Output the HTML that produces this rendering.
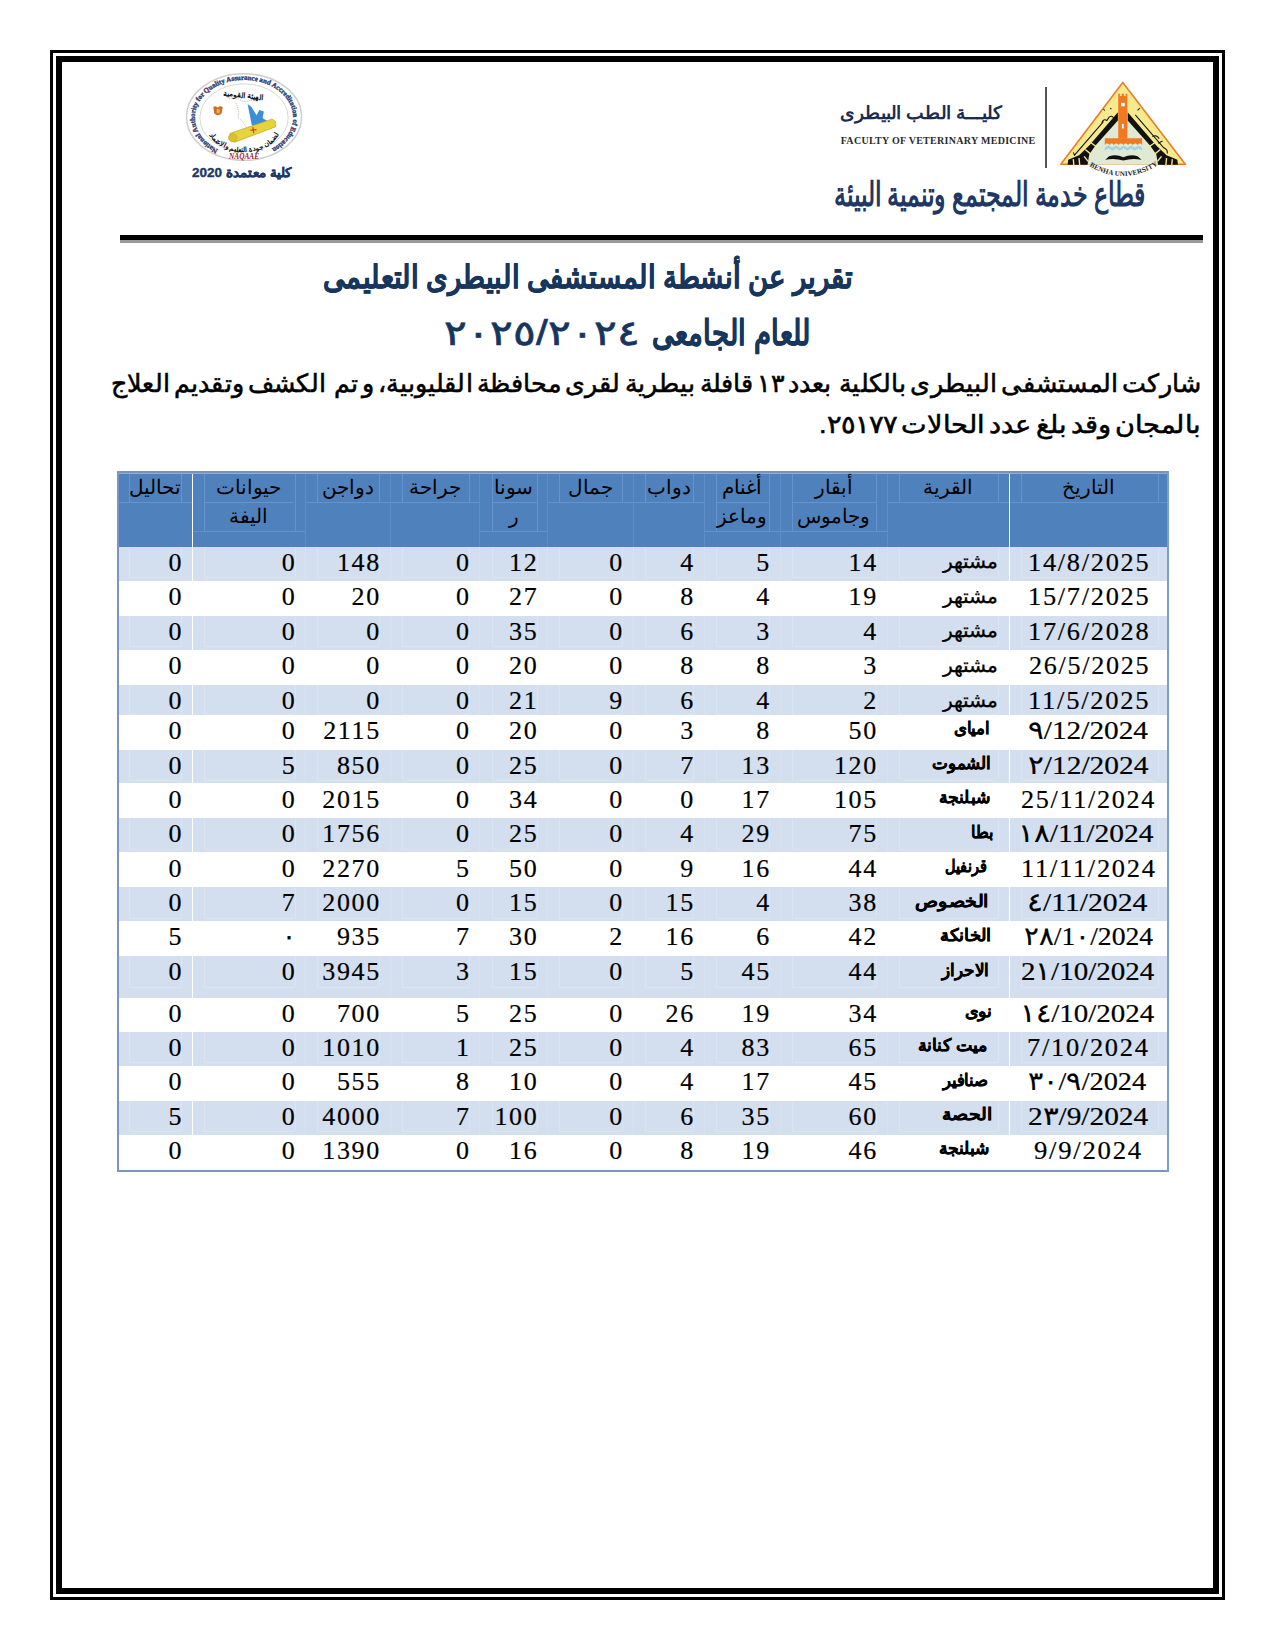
<!DOCTYPE html>
<html><head><meta charset="utf-8"><title>report</title>
<style>
html,body{margin:0;padding:0;background:#fff;}
body{width:1275px;height:1650px;position:relative;overflow:hidden;font-family:"Liberation Sans",sans-serif;}
.a{position:absolute;}
.t{position:absolute;white-space:nowrap;line-height:1;}
.num{font-family:"Liberation Serif",serif;font-size:26px;letter-spacing:1.7px;color:#000;-webkit-text-stroke:0.2px #000;}
.vil{font-family:"Liberation Sans",sans-serif;font-size:20px;color:#000;direction:rtl;transform-origin:0 0;-webkit-text-stroke:0.3px #000;}
.vb{font-weight:bold;font-size:17px;}
.dt{direction:ltr;unicode-bidi:isolate;transform-origin:0 0;}
.hd{font-family:"Liberation Sans",sans-serif;font-size:20px;color:#000;}
</style></head><body>

<div class="a" style="left:50px;top:50px;width:1175px;height:1550px;box-sizing:border-box;border:3px solid #000;"></div>
<div class="a" style="left:56px;top:56px;width:1163px;height:1538px;box-sizing:border-box;border:6px solid #000;"></div>
<div class="a" style="left:120px;top:235px;width:1083px;height:4.5px;background:#000;"></div>
<div class="a" style="left:120px;top:239.5px;width:1083px;height:3px;background:#9a9a9a;"></div>
<svg class="a" style="left:1050px;top:75px;" width="145" height="105" viewBox="0 0 1275 923">
<defs><path id="bu" d="M 345 800 Q 640 980 945 795"/></defs>
<path d="M640 65 L1190 785 L95 785 Z" fill="#f7ea8e" stroke="#ea7d2c" stroke-width="14" stroke-linejoin="round"/>
<path d="M597 400 L400 620 L345 700 L330 790 L950 790 L935 700 L880 620 L683 400 Z" fill="#dfe9d3"/>
<path d="M597 328 L345 620 L255 705 L160 745 L155 790 L330 790 L345 700 L400 620 L597 400 Z" fill="#111"/>
<path d="M683 328 L935 620 L1025 705 L1120 745 L1125 790 L950 790 L935 700 L880 620 L683 400 Z" fill="#111"/>
<g stroke="#f7ea8e" stroke-width="12">
<line x1="360" y1="595" x2="420" y2="640"/><line x1="310" y1="655" x2="365" y2="700"/><line x1="300" y1="715" x2="335" y2="760"/><line x1="255" y1="730" x2="262" y2="800"/><line x1="205" y1="740" x2="210" y2="800"/>
<line x1="920" y1="595" x2="860" y2="640"/><line x1="970" y1="655" x2="915" y2="700"/><line x1="980" y1="715" x2="945" y2="760"/><line x1="1025" y1="730" x2="1018" y2="800"/><line x1="1075" y1="740" x2="1070" y2="800"/>
</g>
<path d="M600 165 L615 165 L615 185 L630 185 L630 165 L650 165 L650 185 L665 185 L665 165 L680 165 L680 560 L600 560 Z" fill="#f07a24"/>
<rect x="625" y="245" width="32" height="30" fill="#fff"/>
<rect x="632" y="430" width="16" height="40" fill="#fff"/>
<path d="M482 555 L810 555 L810 615 Q 790 590 770 615 Q 750 590 728 615 Q 708 590 686 615 Q 666 590 645 615 Q 624 590 603 615 Q 582 590 562 615 Q 542 590 522 615 Q 502 590 482 615 Z" fill="#f07a24"/>
<path d="M482 640 L515 620 L548 640 L581 620 L614 640 L647 620 L680 640 L713 620 L746 640 L779 620 L810 640 L810 665 L779 645 L746 665 L713 645 L680 665 L647 645 L614 665 L581 645 L548 665 L515 645 L482 665 Z" fill="#9fd4e6"/>
<path d="M485 745 L520 715 Q 580 695 645 722 Q 710 695 770 715 L805 745 Q 720 728 645 752 Q 570 728 485 745 Z" fill="#111"/>
<text font-family="Liberation Serif,serif" font-weight="bold" font-size="62" fill="#222"><textPath href="#bu" textLength="640" lengthAdjust="spacing">BENHA UNIVERSITY</textPath></text>
<path d="M205 680 L215 705 L470 410" fill="none" stroke="#111" stroke-width="9"/>
<path d="M455 420 Q 470 380 500 400 L 520 370 Q 545 350 560 380 M470 300 L482 312 M530 290 L540 300" fill="none" stroke="#111" stroke-width="9"/>
<path d="M750 350 L1000 640 Q 1040 660 1030 690" fill="none" stroke="#111" stroke-width="9"/>
<path d="M900 540 Q 940 520 960 560 M950 600 L990 580 M770 310 L790 290" fill="none" stroke="#111" stroke-width="9"/>
</svg>
<svg class="a" style="left:170px;top:70px;" width="160" height="120" viewBox="0 0 1275 956">
<defs>
<path id="na" d="M 383 633 A 392 300 0 1 1 797 633"/>
<path id="ar2" d="M 285 420 A 305 235 0 0 0 895 420"/>
</defs>
<ellipse cx="590" cy="375" rx="458" ry="345" fill="#fff" stroke="#cfcfcf" stroke-width="12"/>
<ellipse cx="590" cy="380" rx="352" ry="270" fill="none" stroke="#c9c9c9" stroke-width="6"/>
<text font-family="Liberation Serif,serif" font-weight="bold" font-size="56" fill="#2b3f7a" stroke="#2b3f7a" stroke-width="3"><textPath href="#na" textLength="1740" lengthAdjust="spacingAndGlyphs"><tspan fill="#b22030">N</tspan>ational <tspan fill="#b22030">A</tspan>uthority for <tspan fill="#b22030">Q</tspan>uality <tspan fill="#b22030">A</tspan>ssurance and <tspan fill="#b22030">A</tspan>ccreditation of <tspan fill="#b22030">E</tspan>ducation</textPath></text>
<text x="590" y="708" font-family="Liberation Serif,serif" font-weight="bold" font-style="italic" font-size="58" fill="#9c1e2c" text-anchor="middle">NAQAAE</text>
<text x="585" y="222" font-family="Liberation Sans,sans-serif" font-weight="bold" font-size="60" fill="#111" text-anchor="middle" direction="rtl" transform="rotate(6 585 200)">الهيئة القومية</text>
<text font-family="Liberation Sans,sans-serif" font-weight="bold" font-size="56" fill="#111" direction="rtl"><textPath href="#ar2" startOffset="50%" text-anchor="middle">لضمان جودة التعليم والاعتماد</textPath></text>
<path d="M470 230 Q 520 210 560 240 Q 600 260 640 240 L 700 250 M 520 260 Q 560 320 540 380 Q 600 420 610 470" fill="none" stroke="#9a9a9a" stroke-width="5" stroke-dasharray="10 8"/>
<path d="M618 270 L648 292 L690 360 L712 318 L748 330 L738 382 L780 410 L795 445 L700 455 L652 440 Z" fill="#3b8fd4"/>
<path d="M478 505 L812 392 Q 850 400 842 452 L515 575 Q 470 570 478 505 Z" fill="#e7d43a" stroke="#bfa82a" stroke-width="6"/>
<ellipse cx="500" cy="540" rx="34" ry="32" fill="#d9c22e" stroke="#bfa82a" stroke-width="5"/>
<path d="M660 455 L668 505 M640 480 L690 475" stroke="#d23a2a" stroke-width="9"/>
<path d="M345 295 Q 360 280 380 300 Q 400 280 420 295 L 412 345 Q 382 375 352 345 Z" fill="#c8702c"/>
<path d="M370 312 L398 312 L394 345 L374 345 Z" fill="#e9b44c"/>
</svg>
<div class="a" style="left:1045px;top:87px;width:1.5px;height:81px;background:#555;"></div>
<div class="t" style="left:323.3px;top:261.7px;font-size:31.5px;font-family:'Liberation Sans',sans-serif;color:#17365d;font-weight:bold;transform:scaleX(0.8620);transform-origin:0 0;direction:rtl;-webkit-text-stroke:0.5px #17365d;">تقرير عن أنشطة المستشفى البيطرى التعليمى</div>
<div class="t" style="left:652.4px;top:314.6px;font-size:35px;font-family:'Liberation Sans',sans-serif;color:#17365d;font-weight:bold;transform:scaleX(0.7840);transform-origin:0 0;direction:rtl;-webkit-text-stroke:0.5px #17365d;">للعام الجامعى</div>
<div class="t" style="left:443.8px;top:314.9px;font-size:35px;font-family:'Liberation Sans',sans-serif;color:#17365d;transform:scaleX(1.2120);transform-origin:0 0;direction:ltr;-webkit-text-stroke:0.7px #17365d;">٢٠٢٥/٢٠٢٤</div>
<div class="t" style="left:110.5px;top:370.7px;font-size:25px;font-family:'Liberation Sans',sans-serif;color:#000;transform:scaleX(1.0140);transform-origin:0 0;direction:rtl;white-space:pre;word-spacing:-3px;-webkit-text-stroke:0.55px #000;">شاركت المستشفى البيطرى بالكلية  بعدد ١٣ قافلة بيطرية لقرى محافظة القليوبية، و تم  الكشف وتقديم العلاج</div>
<div class="t" style="left:819.1px;top:411.9px;font-size:25px;font-family:'Liberation Sans',sans-serif;color:#000;transform:scaleX(1.0860);transform-origin:0 0;direction:rtl;word-spacing:-3px;-webkit-text-stroke:0.55px #000;">بالمجان وقد بلغ عدد الحالات ٢٥١٧٧.</div>
<div class="t" style="left:834.3px;top:177.2px;font-size:34px;font-family:'Liberation Sans',sans-serif;color:#1f3864;font-weight:bold;transform:scaleX(0.6990);transform-origin:0 0;direction:rtl;">قطاع خدمة المجتمع وتنمية البيئة</div>
<div class="t" style="left:840.2px;top:104.5px;font-size:17.5px;font-family:'Liberation Sans',sans-serif;color:#1c2b52;font-weight:bold;transform:scaleX(1.0390);transform-origin:0 0;direction:rtl;">كليـــة الطب البيطرى</div>
<div class="t" style="left:840.7px;top:136.3px;font-size:10px;font-family:'Liberation Serif',serif;color:#2a2a2a;font-weight:bold;transform:scaleX(1.0000);transform-origin:0 0;letter-spacing:0.3px;">FACULTY OF VETERINARY MEDICINE</div>
<div class="t" style="left:192.0px;top:165.8px;font-size:13px;font-family:'Liberation Sans',sans-serif;color:#1f3864;font-weight:bold;transform:scaleX(1.0350);transform-origin:0 0;direction:rtl;-webkit-text-stroke:0.4px #1f3864;">كلية معتمدة 2020</div>
<div class="a" style="left:117px;top:471px;width:1051.5px;height:75.5px;background:#4f81bd;"></div>
<div class="a" style="left:117px;top:546.5px;width:1051.5px;height:34.5px;background:#d3dfee;"></div>
<div class="a" style="left:117px;top:615.5px;width:1051.5px;height:34.2px;background:#d3dfee;"></div>
<div class="a" style="left:117px;top:684.8px;width:1051.5px;height:29.9px;background:#d3dfee;"></div>
<div class="a" style="left:117px;top:749.6px;width:1051.5px;height:33.9px;background:#d3dfee;"></div>
<div class="a" style="left:117px;top:818.3px;width:1051.5px;height:34.2px;background:#d3dfee;"></div>
<div class="a" style="left:117px;top:887px;width:1051.5px;height:34.0px;background:#d3dfee;"></div>
<div class="a" style="left:117px;top:956px;width:1051.5px;height:41.6px;background:#d3dfee;"></div>
<div class="a" style="left:117px;top:1031.6px;width:1051.5px;height:34.4px;background:#d3dfee;"></div>
<div class="a" style="left:117px;top:1100.7px;width:1051.5px;height:34.0px;background:#d3dfee;"></div>
<div class="a" style="left:128.8px;top:546.5px;width:1px;height:30.5px;background:#dbe5f1;"></div>
<div class="a" style="left:181.3px;top:546.5px;width:1px;height:30.5px;background:#dbe5f1;"></div>
<div class="a" style="left:128.8px;top:577.0px;width:52.5px;height:1px;background:#dbe5f1;"></div>
<div class="a" style="left:204.1px;top:546.5px;width:1px;height:30.5px;background:#dbe5f1;"></div>
<div class="a" style="left:294.5px;top:546.5px;width:1px;height:30.5px;background:#dbe5f1;"></div>
<div class="a" style="left:191.8px;top:546.5px;width:1px;height:34.5px;background:#d9e3f0;"></div>
<div class="a" style="left:204.1px;top:577.0px;width:90.4px;height:1px;background:#dbe5f1;"></div>
<div class="a" style="left:317.3px;top:546.5px;width:1px;height:30.5px;background:#dbe5f1;"></div>
<div class="a" style="left:379.0px;top:546.5px;width:1px;height:30.5px;background:#dbe5f1;"></div>
<div class="a" style="left:305.0px;top:546.5px;width:1px;height:34.5px;background:#d9e3f0;"></div>
<div class="a" style="left:317.3px;top:577.0px;width:61.7px;height:1px;background:#dbe5f1;"></div>
<div class="a" style="left:401.8px;top:546.5px;width:1px;height:30.5px;background:#dbe5f1;"></div>
<div class="a" style="left:468.7px;top:546.5px;width:1px;height:30.5px;background:#dbe5f1;"></div>
<div class="a" style="left:389.5px;top:546.5px;width:1px;height:34.5px;background:#d9e3f0;"></div>
<div class="a" style="left:401.8px;top:577.0px;width:66.9px;height:1px;background:#dbe5f1;"></div>
<div class="a" style="left:491.5px;top:546.5px;width:1px;height:30.5px;background:#dbe5f1;"></div>
<div class="a" style="left:536.5px;top:546.5px;width:1px;height:30.5px;background:#dbe5f1;"></div>
<div class="a" style="left:479.2px;top:546.5px;width:1px;height:34.5px;background:#d9e3f0;"></div>
<div class="a" style="left:491.5px;top:577.0px;width:45.0px;height:1px;background:#dbe5f1;"></div>
<div class="a" style="left:559.3px;top:546.5px;width:1px;height:30.5px;background:#dbe5f1;"></div>
<div class="a" style="left:622.0px;top:546.5px;width:1px;height:30.5px;background:#dbe5f1;"></div>
<div class="a" style="left:547.0px;top:546.5px;width:1px;height:34.5px;background:#d9e3f0;"></div>
<div class="a" style="left:559.3px;top:577.0px;width:62.7px;height:1px;background:#dbe5f1;"></div>
<div class="a" style="left:644.8px;top:546.5px;width:1px;height:30.5px;background:#dbe5f1;"></div>
<div class="a" style="left:693.0px;top:546.5px;width:1px;height:30.5px;background:#dbe5f1;"></div>
<div class="a" style="left:632.5px;top:546.5px;width:1px;height:34.5px;background:#d9e3f0;"></div>
<div class="a" style="left:644.8px;top:577.0px;width:48.2px;height:1px;background:#dbe5f1;"></div>
<div class="a" style="left:715.8px;top:546.5px;width:1px;height:30.5px;background:#dbe5f1;"></div>
<div class="a" style="left:769.0px;top:546.5px;width:1px;height:30.5px;background:#dbe5f1;"></div>
<div class="a" style="left:703.5px;top:546.5px;width:1px;height:34.5px;background:#d9e3f0;"></div>
<div class="a" style="left:715.8px;top:577.0px;width:53.2px;height:1px;background:#dbe5f1;"></div>
<div class="a" style="left:791.8px;top:546.5px;width:1px;height:30.5px;background:#dbe5f1;"></div>
<div class="a" style="left:876.0px;top:546.5px;width:1px;height:30.5px;background:#dbe5f1;"></div>
<div class="a" style="left:779.5px;top:546.5px;width:1px;height:34.5px;background:#d9e3f0;"></div>
<div class="a" style="left:791.8px;top:577.0px;width:84.2px;height:1px;background:#dbe5f1;"></div>
<div class="a" style="left:898.8px;top:546.5px;width:1px;height:30.5px;background:#dbe5f1;"></div>
<div class="a" style="left:998.4px;top:546.5px;width:1px;height:30.5px;background:#dbe5f1;"></div>
<div class="a" style="left:886.5px;top:546.5px;width:1px;height:34.5px;background:#d9e3f0;"></div>
<div class="a" style="left:898.8px;top:577.0px;width:99.6px;height:1px;background:#dbe5f1;"></div>
<div class="a" style="left:1021.2px;top:546.5px;width:1px;height:30.5px;background:#dbe5f1;"></div>
<div class="a" style="left:1157.5px;top:546.5px;width:1px;height:30.5px;background:#dbe5f1;"></div>
<div class="a" style="left:1008.9px;top:546.5px;width:1px;height:34.5px;background:#d9e3f0;"></div>
<div class="a" style="left:1021.2px;top:577.0px;width:136.3px;height:1px;background:#dbe5f1;"></div>
<div class="a" style="left:128.8px;top:615.5px;width:1px;height:30.5px;background:#dbe5f1;"></div>
<div class="a" style="left:181.3px;top:615.5px;width:1px;height:30.5px;background:#dbe5f1;"></div>
<div class="a" style="left:128.8px;top:646.0px;width:52.5px;height:1px;background:#dbe5f1;"></div>
<div class="a" style="left:204.1px;top:615.5px;width:1px;height:30.5px;background:#dbe5f1;"></div>
<div class="a" style="left:294.5px;top:615.5px;width:1px;height:30.5px;background:#dbe5f1;"></div>
<div class="a" style="left:191.8px;top:615.5px;width:1px;height:34.2px;background:#d9e3f0;"></div>
<div class="a" style="left:204.1px;top:646.0px;width:90.4px;height:1px;background:#dbe5f1;"></div>
<div class="a" style="left:317.3px;top:615.5px;width:1px;height:30.5px;background:#dbe5f1;"></div>
<div class="a" style="left:379.0px;top:615.5px;width:1px;height:30.5px;background:#dbe5f1;"></div>
<div class="a" style="left:305.0px;top:615.5px;width:1px;height:34.2px;background:#d9e3f0;"></div>
<div class="a" style="left:317.3px;top:646.0px;width:61.7px;height:1px;background:#dbe5f1;"></div>
<div class="a" style="left:401.8px;top:615.5px;width:1px;height:30.5px;background:#dbe5f1;"></div>
<div class="a" style="left:468.7px;top:615.5px;width:1px;height:30.5px;background:#dbe5f1;"></div>
<div class="a" style="left:389.5px;top:615.5px;width:1px;height:34.2px;background:#d9e3f0;"></div>
<div class="a" style="left:401.8px;top:646.0px;width:66.9px;height:1px;background:#dbe5f1;"></div>
<div class="a" style="left:491.5px;top:615.5px;width:1px;height:30.5px;background:#dbe5f1;"></div>
<div class="a" style="left:536.5px;top:615.5px;width:1px;height:30.5px;background:#dbe5f1;"></div>
<div class="a" style="left:479.2px;top:615.5px;width:1px;height:34.2px;background:#d9e3f0;"></div>
<div class="a" style="left:491.5px;top:646.0px;width:45.0px;height:1px;background:#dbe5f1;"></div>
<div class="a" style="left:559.3px;top:615.5px;width:1px;height:30.5px;background:#dbe5f1;"></div>
<div class="a" style="left:622.0px;top:615.5px;width:1px;height:30.5px;background:#dbe5f1;"></div>
<div class="a" style="left:547.0px;top:615.5px;width:1px;height:34.2px;background:#d9e3f0;"></div>
<div class="a" style="left:559.3px;top:646.0px;width:62.7px;height:1px;background:#dbe5f1;"></div>
<div class="a" style="left:644.8px;top:615.5px;width:1px;height:30.5px;background:#dbe5f1;"></div>
<div class="a" style="left:693.0px;top:615.5px;width:1px;height:30.5px;background:#dbe5f1;"></div>
<div class="a" style="left:632.5px;top:615.5px;width:1px;height:34.2px;background:#d9e3f0;"></div>
<div class="a" style="left:644.8px;top:646.0px;width:48.2px;height:1px;background:#dbe5f1;"></div>
<div class="a" style="left:715.8px;top:615.5px;width:1px;height:30.5px;background:#dbe5f1;"></div>
<div class="a" style="left:769.0px;top:615.5px;width:1px;height:30.5px;background:#dbe5f1;"></div>
<div class="a" style="left:703.5px;top:615.5px;width:1px;height:34.2px;background:#d9e3f0;"></div>
<div class="a" style="left:715.8px;top:646.0px;width:53.2px;height:1px;background:#dbe5f1;"></div>
<div class="a" style="left:791.8px;top:615.5px;width:1px;height:30.5px;background:#dbe5f1;"></div>
<div class="a" style="left:876.0px;top:615.5px;width:1px;height:30.5px;background:#dbe5f1;"></div>
<div class="a" style="left:779.5px;top:615.5px;width:1px;height:34.2px;background:#d9e3f0;"></div>
<div class="a" style="left:791.8px;top:646.0px;width:84.2px;height:1px;background:#dbe5f1;"></div>
<div class="a" style="left:898.8px;top:615.5px;width:1px;height:30.5px;background:#dbe5f1;"></div>
<div class="a" style="left:998.4px;top:615.5px;width:1px;height:30.5px;background:#dbe5f1;"></div>
<div class="a" style="left:886.5px;top:615.5px;width:1px;height:34.2px;background:#d9e3f0;"></div>
<div class="a" style="left:898.8px;top:646.0px;width:99.6px;height:1px;background:#dbe5f1;"></div>
<div class="a" style="left:1021.2px;top:615.5px;width:1px;height:30.5px;background:#dbe5f1;"></div>
<div class="a" style="left:1157.5px;top:615.5px;width:1px;height:30.5px;background:#dbe5f1;"></div>
<div class="a" style="left:1008.9px;top:615.5px;width:1px;height:34.2px;background:#d9e3f0;"></div>
<div class="a" style="left:1021.2px;top:646.0px;width:136.3px;height:1px;background:#dbe5f1;"></div>
<div class="a" style="left:128.8px;top:684.8px;width:1px;height:28.9px;background:#dbe5f1;"></div>
<div class="a" style="left:181.3px;top:684.8px;width:1px;height:28.9px;background:#dbe5f1;"></div>
<div class="a" style="left:128.8px;top:713.7px;width:52.5px;height:1px;background:#dbe5f1;"></div>
<div class="a" style="left:204.1px;top:684.8px;width:1px;height:28.9px;background:#dbe5f1;"></div>
<div class="a" style="left:294.5px;top:684.8px;width:1px;height:28.9px;background:#dbe5f1;"></div>
<div class="a" style="left:191.8px;top:684.8px;width:1px;height:29.9px;background:#d9e3f0;"></div>
<div class="a" style="left:204.1px;top:713.7px;width:90.4px;height:1px;background:#dbe5f1;"></div>
<div class="a" style="left:317.3px;top:684.8px;width:1px;height:28.9px;background:#dbe5f1;"></div>
<div class="a" style="left:379.0px;top:684.8px;width:1px;height:28.9px;background:#dbe5f1;"></div>
<div class="a" style="left:305.0px;top:684.8px;width:1px;height:29.9px;background:#d9e3f0;"></div>
<div class="a" style="left:317.3px;top:713.7px;width:61.7px;height:1px;background:#dbe5f1;"></div>
<div class="a" style="left:401.8px;top:684.8px;width:1px;height:28.9px;background:#dbe5f1;"></div>
<div class="a" style="left:468.7px;top:684.8px;width:1px;height:28.9px;background:#dbe5f1;"></div>
<div class="a" style="left:389.5px;top:684.8px;width:1px;height:29.9px;background:#d9e3f0;"></div>
<div class="a" style="left:401.8px;top:713.7px;width:66.9px;height:1px;background:#dbe5f1;"></div>
<div class="a" style="left:491.5px;top:684.8px;width:1px;height:28.9px;background:#dbe5f1;"></div>
<div class="a" style="left:536.5px;top:684.8px;width:1px;height:28.9px;background:#dbe5f1;"></div>
<div class="a" style="left:479.2px;top:684.8px;width:1px;height:29.9px;background:#d9e3f0;"></div>
<div class="a" style="left:491.5px;top:713.7px;width:45.0px;height:1px;background:#dbe5f1;"></div>
<div class="a" style="left:559.3px;top:684.8px;width:1px;height:28.9px;background:#dbe5f1;"></div>
<div class="a" style="left:622.0px;top:684.8px;width:1px;height:28.9px;background:#dbe5f1;"></div>
<div class="a" style="left:547.0px;top:684.8px;width:1px;height:29.9px;background:#d9e3f0;"></div>
<div class="a" style="left:559.3px;top:713.7px;width:62.7px;height:1px;background:#dbe5f1;"></div>
<div class="a" style="left:644.8px;top:684.8px;width:1px;height:28.9px;background:#dbe5f1;"></div>
<div class="a" style="left:693.0px;top:684.8px;width:1px;height:28.9px;background:#dbe5f1;"></div>
<div class="a" style="left:632.5px;top:684.8px;width:1px;height:29.9px;background:#d9e3f0;"></div>
<div class="a" style="left:644.8px;top:713.7px;width:48.2px;height:1px;background:#dbe5f1;"></div>
<div class="a" style="left:715.8px;top:684.8px;width:1px;height:28.9px;background:#dbe5f1;"></div>
<div class="a" style="left:769.0px;top:684.8px;width:1px;height:28.9px;background:#dbe5f1;"></div>
<div class="a" style="left:703.5px;top:684.8px;width:1px;height:29.9px;background:#d9e3f0;"></div>
<div class="a" style="left:715.8px;top:713.7px;width:53.2px;height:1px;background:#dbe5f1;"></div>
<div class="a" style="left:791.8px;top:684.8px;width:1px;height:28.9px;background:#dbe5f1;"></div>
<div class="a" style="left:876.0px;top:684.8px;width:1px;height:28.9px;background:#dbe5f1;"></div>
<div class="a" style="left:779.5px;top:684.8px;width:1px;height:29.9px;background:#d9e3f0;"></div>
<div class="a" style="left:791.8px;top:713.7px;width:84.2px;height:1px;background:#dbe5f1;"></div>
<div class="a" style="left:898.8px;top:684.8px;width:1px;height:28.9px;background:#dbe5f1;"></div>
<div class="a" style="left:998.4px;top:684.8px;width:1px;height:28.9px;background:#dbe5f1;"></div>
<div class="a" style="left:886.5px;top:684.8px;width:1px;height:29.9px;background:#d9e3f0;"></div>
<div class="a" style="left:898.8px;top:713.7px;width:99.6px;height:1px;background:#dbe5f1;"></div>
<div class="a" style="left:1021.2px;top:684.8px;width:1px;height:28.9px;background:#dbe5f1;"></div>
<div class="a" style="left:1157.5px;top:684.8px;width:1px;height:28.9px;background:#dbe5f1;"></div>
<div class="a" style="left:1008.9px;top:684.8px;width:1px;height:29.9px;background:#d9e3f0;"></div>
<div class="a" style="left:1021.2px;top:713.7px;width:136.3px;height:1px;background:#dbe5f1;"></div>
<div class="a" style="left:128.8px;top:749.6px;width:1px;height:30.5px;background:#dbe5f1;"></div>
<div class="a" style="left:181.3px;top:749.6px;width:1px;height:30.5px;background:#dbe5f1;"></div>
<div class="a" style="left:128.8px;top:780.1px;width:52.5px;height:1px;background:#dbe5f1;"></div>
<div class="a" style="left:204.1px;top:749.6px;width:1px;height:30.5px;background:#dbe5f1;"></div>
<div class="a" style="left:294.5px;top:749.6px;width:1px;height:30.5px;background:#dbe5f1;"></div>
<div class="a" style="left:191.8px;top:749.6px;width:1px;height:33.9px;background:#d9e3f0;"></div>
<div class="a" style="left:204.1px;top:780.1px;width:90.4px;height:1px;background:#dbe5f1;"></div>
<div class="a" style="left:317.3px;top:749.6px;width:1px;height:30.5px;background:#dbe5f1;"></div>
<div class="a" style="left:379.0px;top:749.6px;width:1px;height:30.5px;background:#dbe5f1;"></div>
<div class="a" style="left:305.0px;top:749.6px;width:1px;height:33.9px;background:#d9e3f0;"></div>
<div class="a" style="left:317.3px;top:780.1px;width:61.7px;height:1px;background:#dbe5f1;"></div>
<div class="a" style="left:401.8px;top:749.6px;width:1px;height:30.5px;background:#dbe5f1;"></div>
<div class="a" style="left:468.7px;top:749.6px;width:1px;height:30.5px;background:#dbe5f1;"></div>
<div class="a" style="left:389.5px;top:749.6px;width:1px;height:33.9px;background:#d9e3f0;"></div>
<div class="a" style="left:401.8px;top:780.1px;width:66.9px;height:1px;background:#dbe5f1;"></div>
<div class="a" style="left:491.5px;top:749.6px;width:1px;height:30.5px;background:#dbe5f1;"></div>
<div class="a" style="left:536.5px;top:749.6px;width:1px;height:30.5px;background:#dbe5f1;"></div>
<div class="a" style="left:479.2px;top:749.6px;width:1px;height:33.9px;background:#d9e3f0;"></div>
<div class="a" style="left:491.5px;top:780.1px;width:45.0px;height:1px;background:#dbe5f1;"></div>
<div class="a" style="left:559.3px;top:749.6px;width:1px;height:30.5px;background:#dbe5f1;"></div>
<div class="a" style="left:622.0px;top:749.6px;width:1px;height:30.5px;background:#dbe5f1;"></div>
<div class="a" style="left:547.0px;top:749.6px;width:1px;height:33.9px;background:#d9e3f0;"></div>
<div class="a" style="left:559.3px;top:780.1px;width:62.7px;height:1px;background:#dbe5f1;"></div>
<div class="a" style="left:644.8px;top:749.6px;width:1px;height:30.5px;background:#dbe5f1;"></div>
<div class="a" style="left:693.0px;top:749.6px;width:1px;height:30.5px;background:#dbe5f1;"></div>
<div class="a" style="left:632.5px;top:749.6px;width:1px;height:33.9px;background:#d9e3f0;"></div>
<div class="a" style="left:644.8px;top:780.1px;width:48.2px;height:1px;background:#dbe5f1;"></div>
<div class="a" style="left:715.8px;top:749.6px;width:1px;height:30.5px;background:#dbe5f1;"></div>
<div class="a" style="left:769.0px;top:749.6px;width:1px;height:30.5px;background:#dbe5f1;"></div>
<div class="a" style="left:703.5px;top:749.6px;width:1px;height:33.9px;background:#d9e3f0;"></div>
<div class="a" style="left:715.8px;top:780.1px;width:53.2px;height:1px;background:#dbe5f1;"></div>
<div class="a" style="left:791.8px;top:749.6px;width:1px;height:30.5px;background:#dbe5f1;"></div>
<div class="a" style="left:876.0px;top:749.6px;width:1px;height:30.5px;background:#dbe5f1;"></div>
<div class="a" style="left:779.5px;top:749.6px;width:1px;height:33.9px;background:#d9e3f0;"></div>
<div class="a" style="left:791.8px;top:780.1px;width:84.2px;height:1px;background:#dbe5f1;"></div>
<div class="a" style="left:898.8px;top:749.6px;width:1px;height:30.5px;background:#dbe5f1;"></div>
<div class="a" style="left:998.4px;top:749.6px;width:1px;height:30.5px;background:#dbe5f1;"></div>
<div class="a" style="left:886.5px;top:749.6px;width:1px;height:33.9px;background:#d9e3f0;"></div>
<div class="a" style="left:898.8px;top:780.1px;width:99.6px;height:1px;background:#dbe5f1;"></div>
<div class="a" style="left:1021.2px;top:749.6px;width:1px;height:30.5px;background:#dbe5f1;"></div>
<div class="a" style="left:1157.5px;top:749.6px;width:1px;height:30.5px;background:#dbe5f1;"></div>
<div class="a" style="left:1008.9px;top:749.6px;width:1px;height:33.9px;background:#d9e3f0;"></div>
<div class="a" style="left:1021.2px;top:780.1px;width:136.3px;height:1px;background:#dbe5f1;"></div>
<div class="a" style="left:128.8px;top:818.3px;width:1px;height:30.5px;background:#dbe5f1;"></div>
<div class="a" style="left:181.3px;top:818.3px;width:1px;height:30.5px;background:#dbe5f1;"></div>
<div class="a" style="left:128.8px;top:848.8px;width:52.5px;height:1px;background:#dbe5f1;"></div>
<div class="a" style="left:204.1px;top:818.3px;width:1px;height:30.5px;background:#dbe5f1;"></div>
<div class="a" style="left:294.5px;top:818.3px;width:1px;height:30.5px;background:#dbe5f1;"></div>
<div class="a" style="left:191.8px;top:818.3px;width:1px;height:34.2px;background:#d9e3f0;"></div>
<div class="a" style="left:204.1px;top:848.8px;width:90.4px;height:1px;background:#dbe5f1;"></div>
<div class="a" style="left:317.3px;top:818.3px;width:1px;height:30.5px;background:#dbe5f1;"></div>
<div class="a" style="left:379.0px;top:818.3px;width:1px;height:30.5px;background:#dbe5f1;"></div>
<div class="a" style="left:305.0px;top:818.3px;width:1px;height:34.2px;background:#d9e3f0;"></div>
<div class="a" style="left:317.3px;top:848.8px;width:61.7px;height:1px;background:#dbe5f1;"></div>
<div class="a" style="left:401.8px;top:818.3px;width:1px;height:30.5px;background:#dbe5f1;"></div>
<div class="a" style="left:468.7px;top:818.3px;width:1px;height:30.5px;background:#dbe5f1;"></div>
<div class="a" style="left:389.5px;top:818.3px;width:1px;height:34.2px;background:#d9e3f0;"></div>
<div class="a" style="left:401.8px;top:848.8px;width:66.9px;height:1px;background:#dbe5f1;"></div>
<div class="a" style="left:491.5px;top:818.3px;width:1px;height:30.5px;background:#dbe5f1;"></div>
<div class="a" style="left:536.5px;top:818.3px;width:1px;height:30.5px;background:#dbe5f1;"></div>
<div class="a" style="left:479.2px;top:818.3px;width:1px;height:34.2px;background:#d9e3f0;"></div>
<div class="a" style="left:491.5px;top:848.8px;width:45.0px;height:1px;background:#dbe5f1;"></div>
<div class="a" style="left:559.3px;top:818.3px;width:1px;height:30.5px;background:#dbe5f1;"></div>
<div class="a" style="left:622.0px;top:818.3px;width:1px;height:30.5px;background:#dbe5f1;"></div>
<div class="a" style="left:547.0px;top:818.3px;width:1px;height:34.2px;background:#d9e3f0;"></div>
<div class="a" style="left:559.3px;top:848.8px;width:62.7px;height:1px;background:#dbe5f1;"></div>
<div class="a" style="left:644.8px;top:818.3px;width:1px;height:30.5px;background:#dbe5f1;"></div>
<div class="a" style="left:693.0px;top:818.3px;width:1px;height:30.5px;background:#dbe5f1;"></div>
<div class="a" style="left:632.5px;top:818.3px;width:1px;height:34.2px;background:#d9e3f0;"></div>
<div class="a" style="left:644.8px;top:848.8px;width:48.2px;height:1px;background:#dbe5f1;"></div>
<div class="a" style="left:715.8px;top:818.3px;width:1px;height:30.5px;background:#dbe5f1;"></div>
<div class="a" style="left:769.0px;top:818.3px;width:1px;height:30.5px;background:#dbe5f1;"></div>
<div class="a" style="left:703.5px;top:818.3px;width:1px;height:34.2px;background:#d9e3f0;"></div>
<div class="a" style="left:715.8px;top:848.8px;width:53.2px;height:1px;background:#dbe5f1;"></div>
<div class="a" style="left:791.8px;top:818.3px;width:1px;height:30.5px;background:#dbe5f1;"></div>
<div class="a" style="left:876.0px;top:818.3px;width:1px;height:30.5px;background:#dbe5f1;"></div>
<div class="a" style="left:779.5px;top:818.3px;width:1px;height:34.2px;background:#d9e3f0;"></div>
<div class="a" style="left:791.8px;top:848.8px;width:84.2px;height:1px;background:#dbe5f1;"></div>
<div class="a" style="left:898.8px;top:818.3px;width:1px;height:30.5px;background:#dbe5f1;"></div>
<div class="a" style="left:998.4px;top:818.3px;width:1px;height:30.5px;background:#dbe5f1;"></div>
<div class="a" style="left:886.5px;top:818.3px;width:1px;height:34.2px;background:#d9e3f0;"></div>
<div class="a" style="left:898.8px;top:848.8px;width:99.6px;height:1px;background:#dbe5f1;"></div>
<div class="a" style="left:1021.2px;top:818.3px;width:1px;height:30.5px;background:#dbe5f1;"></div>
<div class="a" style="left:1157.5px;top:818.3px;width:1px;height:30.5px;background:#dbe5f1;"></div>
<div class="a" style="left:1008.9px;top:818.3px;width:1px;height:34.2px;background:#d9e3f0;"></div>
<div class="a" style="left:1021.2px;top:848.8px;width:136.3px;height:1px;background:#dbe5f1;"></div>
<div class="a" style="left:128.8px;top:887.0px;width:1px;height:30.5px;background:#dbe5f1;"></div>
<div class="a" style="left:181.3px;top:887.0px;width:1px;height:30.5px;background:#dbe5f1;"></div>
<div class="a" style="left:128.8px;top:917.5px;width:52.5px;height:1px;background:#dbe5f1;"></div>
<div class="a" style="left:204.1px;top:887.0px;width:1px;height:30.5px;background:#dbe5f1;"></div>
<div class="a" style="left:294.5px;top:887.0px;width:1px;height:30.5px;background:#dbe5f1;"></div>
<div class="a" style="left:191.8px;top:887.0px;width:1px;height:34.0px;background:#d9e3f0;"></div>
<div class="a" style="left:204.1px;top:917.5px;width:90.4px;height:1px;background:#dbe5f1;"></div>
<div class="a" style="left:317.3px;top:887.0px;width:1px;height:30.5px;background:#dbe5f1;"></div>
<div class="a" style="left:379.0px;top:887.0px;width:1px;height:30.5px;background:#dbe5f1;"></div>
<div class="a" style="left:305.0px;top:887.0px;width:1px;height:34.0px;background:#d9e3f0;"></div>
<div class="a" style="left:317.3px;top:917.5px;width:61.7px;height:1px;background:#dbe5f1;"></div>
<div class="a" style="left:401.8px;top:887.0px;width:1px;height:30.5px;background:#dbe5f1;"></div>
<div class="a" style="left:468.7px;top:887.0px;width:1px;height:30.5px;background:#dbe5f1;"></div>
<div class="a" style="left:389.5px;top:887.0px;width:1px;height:34.0px;background:#d9e3f0;"></div>
<div class="a" style="left:401.8px;top:917.5px;width:66.9px;height:1px;background:#dbe5f1;"></div>
<div class="a" style="left:491.5px;top:887.0px;width:1px;height:30.5px;background:#dbe5f1;"></div>
<div class="a" style="left:536.5px;top:887.0px;width:1px;height:30.5px;background:#dbe5f1;"></div>
<div class="a" style="left:479.2px;top:887.0px;width:1px;height:34.0px;background:#d9e3f0;"></div>
<div class="a" style="left:491.5px;top:917.5px;width:45.0px;height:1px;background:#dbe5f1;"></div>
<div class="a" style="left:559.3px;top:887.0px;width:1px;height:30.5px;background:#dbe5f1;"></div>
<div class="a" style="left:622.0px;top:887.0px;width:1px;height:30.5px;background:#dbe5f1;"></div>
<div class="a" style="left:547.0px;top:887.0px;width:1px;height:34.0px;background:#d9e3f0;"></div>
<div class="a" style="left:559.3px;top:917.5px;width:62.7px;height:1px;background:#dbe5f1;"></div>
<div class="a" style="left:644.8px;top:887.0px;width:1px;height:30.5px;background:#dbe5f1;"></div>
<div class="a" style="left:693.0px;top:887.0px;width:1px;height:30.5px;background:#dbe5f1;"></div>
<div class="a" style="left:632.5px;top:887.0px;width:1px;height:34.0px;background:#d9e3f0;"></div>
<div class="a" style="left:644.8px;top:917.5px;width:48.2px;height:1px;background:#dbe5f1;"></div>
<div class="a" style="left:715.8px;top:887.0px;width:1px;height:30.5px;background:#dbe5f1;"></div>
<div class="a" style="left:769.0px;top:887.0px;width:1px;height:30.5px;background:#dbe5f1;"></div>
<div class="a" style="left:703.5px;top:887.0px;width:1px;height:34.0px;background:#d9e3f0;"></div>
<div class="a" style="left:715.8px;top:917.5px;width:53.2px;height:1px;background:#dbe5f1;"></div>
<div class="a" style="left:791.8px;top:887.0px;width:1px;height:30.5px;background:#dbe5f1;"></div>
<div class="a" style="left:876.0px;top:887.0px;width:1px;height:30.5px;background:#dbe5f1;"></div>
<div class="a" style="left:779.5px;top:887.0px;width:1px;height:34.0px;background:#d9e3f0;"></div>
<div class="a" style="left:791.8px;top:917.5px;width:84.2px;height:1px;background:#dbe5f1;"></div>
<div class="a" style="left:898.8px;top:887.0px;width:1px;height:30.5px;background:#dbe5f1;"></div>
<div class="a" style="left:998.4px;top:887.0px;width:1px;height:30.5px;background:#dbe5f1;"></div>
<div class="a" style="left:886.5px;top:887.0px;width:1px;height:34.0px;background:#d9e3f0;"></div>
<div class="a" style="left:898.8px;top:917.5px;width:99.6px;height:1px;background:#dbe5f1;"></div>
<div class="a" style="left:1021.2px;top:887.0px;width:1px;height:30.5px;background:#dbe5f1;"></div>
<div class="a" style="left:1157.5px;top:887.0px;width:1px;height:30.5px;background:#dbe5f1;"></div>
<div class="a" style="left:1008.9px;top:887.0px;width:1px;height:34.0px;background:#d9e3f0;"></div>
<div class="a" style="left:1021.2px;top:917.5px;width:136.3px;height:1px;background:#dbe5f1;"></div>
<div class="a" style="left:128.8px;top:956.0px;width:1px;height:30.5px;background:#dbe5f1;"></div>
<div class="a" style="left:181.3px;top:956.0px;width:1px;height:30.5px;background:#dbe5f1;"></div>
<div class="a" style="left:128.8px;top:986.5px;width:52.5px;height:1px;background:#dbe5f1;"></div>
<div class="a" style="left:204.1px;top:956.0px;width:1px;height:30.5px;background:#dbe5f1;"></div>
<div class="a" style="left:294.5px;top:956.0px;width:1px;height:30.5px;background:#dbe5f1;"></div>
<div class="a" style="left:191.8px;top:956.0px;width:1px;height:41.6px;background:#d9e3f0;"></div>
<div class="a" style="left:204.1px;top:986.5px;width:90.4px;height:1px;background:#dbe5f1;"></div>
<div class="a" style="left:317.3px;top:956.0px;width:1px;height:30.5px;background:#dbe5f1;"></div>
<div class="a" style="left:379.0px;top:956.0px;width:1px;height:30.5px;background:#dbe5f1;"></div>
<div class="a" style="left:305.0px;top:956.0px;width:1px;height:41.6px;background:#d9e3f0;"></div>
<div class="a" style="left:317.3px;top:986.5px;width:61.7px;height:1px;background:#dbe5f1;"></div>
<div class="a" style="left:401.8px;top:956.0px;width:1px;height:30.5px;background:#dbe5f1;"></div>
<div class="a" style="left:468.7px;top:956.0px;width:1px;height:30.5px;background:#dbe5f1;"></div>
<div class="a" style="left:389.5px;top:956.0px;width:1px;height:41.6px;background:#d9e3f0;"></div>
<div class="a" style="left:401.8px;top:986.5px;width:66.9px;height:1px;background:#dbe5f1;"></div>
<div class="a" style="left:491.5px;top:956.0px;width:1px;height:30.5px;background:#dbe5f1;"></div>
<div class="a" style="left:536.5px;top:956.0px;width:1px;height:30.5px;background:#dbe5f1;"></div>
<div class="a" style="left:479.2px;top:956.0px;width:1px;height:41.6px;background:#d9e3f0;"></div>
<div class="a" style="left:491.5px;top:986.5px;width:45.0px;height:1px;background:#dbe5f1;"></div>
<div class="a" style="left:559.3px;top:956.0px;width:1px;height:30.5px;background:#dbe5f1;"></div>
<div class="a" style="left:622.0px;top:956.0px;width:1px;height:30.5px;background:#dbe5f1;"></div>
<div class="a" style="left:547.0px;top:956.0px;width:1px;height:41.6px;background:#d9e3f0;"></div>
<div class="a" style="left:559.3px;top:986.5px;width:62.7px;height:1px;background:#dbe5f1;"></div>
<div class="a" style="left:644.8px;top:956.0px;width:1px;height:30.5px;background:#dbe5f1;"></div>
<div class="a" style="left:693.0px;top:956.0px;width:1px;height:30.5px;background:#dbe5f1;"></div>
<div class="a" style="left:632.5px;top:956.0px;width:1px;height:41.6px;background:#d9e3f0;"></div>
<div class="a" style="left:644.8px;top:986.5px;width:48.2px;height:1px;background:#dbe5f1;"></div>
<div class="a" style="left:715.8px;top:956.0px;width:1px;height:30.5px;background:#dbe5f1;"></div>
<div class="a" style="left:769.0px;top:956.0px;width:1px;height:30.5px;background:#dbe5f1;"></div>
<div class="a" style="left:703.5px;top:956.0px;width:1px;height:41.6px;background:#d9e3f0;"></div>
<div class="a" style="left:715.8px;top:986.5px;width:53.2px;height:1px;background:#dbe5f1;"></div>
<div class="a" style="left:791.8px;top:956.0px;width:1px;height:30.5px;background:#dbe5f1;"></div>
<div class="a" style="left:876.0px;top:956.0px;width:1px;height:30.5px;background:#dbe5f1;"></div>
<div class="a" style="left:779.5px;top:956.0px;width:1px;height:41.6px;background:#d9e3f0;"></div>
<div class="a" style="left:791.8px;top:986.5px;width:84.2px;height:1px;background:#dbe5f1;"></div>
<div class="a" style="left:898.8px;top:956.0px;width:1px;height:30.5px;background:#dbe5f1;"></div>
<div class="a" style="left:998.4px;top:956.0px;width:1px;height:30.5px;background:#dbe5f1;"></div>
<div class="a" style="left:886.5px;top:956.0px;width:1px;height:41.6px;background:#d9e3f0;"></div>
<div class="a" style="left:898.8px;top:986.5px;width:99.6px;height:1px;background:#dbe5f1;"></div>
<div class="a" style="left:1021.2px;top:956.0px;width:1px;height:30.5px;background:#dbe5f1;"></div>
<div class="a" style="left:1157.5px;top:956.0px;width:1px;height:30.5px;background:#dbe5f1;"></div>
<div class="a" style="left:1008.9px;top:956.0px;width:1px;height:41.6px;background:#d9e3f0;"></div>
<div class="a" style="left:1021.2px;top:986.5px;width:136.3px;height:1px;background:#dbe5f1;"></div>
<div class="a" style="left:128.8px;top:1031.6px;width:1px;height:30.5px;background:#dbe5f1;"></div>
<div class="a" style="left:181.3px;top:1031.6px;width:1px;height:30.5px;background:#dbe5f1;"></div>
<div class="a" style="left:128.8px;top:1062.1px;width:52.5px;height:1px;background:#dbe5f1;"></div>
<div class="a" style="left:204.1px;top:1031.6px;width:1px;height:30.5px;background:#dbe5f1;"></div>
<div class="a" style="left:294.5px;top:1031.6px;width:1px;height:30.5px;background:#dbe5f1;"></div>
<div class="a" style="left:191.8px;top:1031.6px;width:1px;height:34.4px;background:#d9e3f0;"></div>
<div class="a" style="left:204.1px;top:1062.1px;width:90.4px;height:1px;background:#dbe5f1;"></div>
<div class="a" style="left:317.3px;top:1031.6px;width:1px;height:30.5px;background:#dbe5f1;"></div>
<div class="a" style="left:379.0px;top:1031.6px;width:1px;height:30.5px;background:#dbe5f1;"></div>
<div class="a" style="left:305.0px;top:1031.6px;width:1px;height:34.4px;background:#d9e3f0;"></div>
<div class="a" style="left:317.3px;top:1062.1px;width:61.7px;height:1px;background:#dbe5f1;"></div>
<div class="a" style="left:401.8px;top:1031.6px;width:1px;height:30.5px;background:#dbe5f1;"></div>
<div class="a" style="left:468.7px;top:1031.6px;width:1px;height:30.5px;background:#dbe5f1;"></div>
<div class="a" style="left:389.5px;top:1031.6px;width:1px;height:34.4px;background:#d9e3f0;"></div>
<div class="a" style="left:401.8px;top:1062.1px;width:66.9px;height:1px;background:#dbe5f1;"></div>
<div class="a" style="left:491.5px;top:1031.6px;width:1px;height:30.5px;background:#dbe5f1;"></div>
<div class="a" style="left:536.5px;top:1031.6px;width:1px;height:30.5px;background:#dbe5f1;"></div>
<div class="a" style="left:479.2px;top:1031.6px;width:1px;height:34.4px;background:#d9e3f0;"></div>
<div class="a" style="left:491.5px;top:1062.1px;width:45.0px;height:1px;background:#dbe5f1;"></div>
<div class="a" style="left:559.3px;top:1031.6px;width:1px;height:30.5px;background:#dbe5f1;"></div>
<div class="a" style="left:622.0px;top:1031.6px;width:1px;height:30.5px;background:#dbe5f1;"></div>
<div class="a" style="left:547.0px;top:1031.6px;width:1px;height:34.4px;background:#d9e3f0;"></div>
<div class="a" style="left:559.3px;top:1062.1px;width:62.7px;height:1px;background:#dbe5f1;"></div>
<div class="a" style="left:644.8px;top:1031.6px;width:1px;height:30.5px;background:#dbe5f1;"></div>
<div class="a" style="left:693.0px;top:1031.6px;width:1px;height:30.5px;background:#dbe5f1;"></div>
<div class="a" style="left:632.5px;top:1031.6px;width:1px;height:34.4px;background:#d9e3f0;"></div>
<div class="a" style="left:644.8px;top:1062.1px;width:48.2px;height:1px;background:#dbe5f1;"></div>
<div class="a" style="left:715.8px;top:1031.6px;width:1px;height:30.5px;background:#dbe5f1;"></div>
<div class="a" style="left:769.0px;top:1031.6px;width:1px;height:30.5px;background:#dbe5f1;"></div>
<div class="a" style="left:703.5px;top:1031.6px;width:1px;height:34.4px;background:#d9e3f0;"></div>
<div class="a" style="left:715.8px;top:1062.1px;width:53.2px;height:1px;background:#dbe5f1;"></div>
<div class="a" style="left:791.8px;top:1031.6px;width:1px;height:30.5px;background:#dbe5f1;"></div>
<div class="a" style="left:876.0px;top:1031.6px;width:1px;height:30.5px;background:#dbe5f1;"></div>
<div class="a" style="left:779.5px;top:1031.6px;width:1px;height:34.4px;background:#d9e3f0;"></div>
<div class="a" style="left:791.8px;top:1062.1px;width:84.2px;height:1px;background:#dbe5f1;"></div>
<div class="a" style="left:898.8px;top:1031.6px;width:1px;height:30.5px;background:#dbe5f1;"></div>
<div class="a" style="left:998.4px;top:1031.6px;width:1px;height:30.5px;background:#dbe5f1;"></div>
<div class="a" style="left:886.5px;top:1031.6px;width:1px;height:34.4px;background:#d9e3f0;"></div>
<div class="a" style="left:898.8px;top:1062.1px;width:99.6px;height:1px;background:#dbe5f1;"></div>
<div class="a" style="left:1021.2px;top:1031.6px;width:1px;height:30.5px;background:#dbe5f1;"></div>
<div class="a" style="left:1157.5px;top:1031.6px;width:1px;height:30.5px;background:#dbe5f1;"></div>
<div class="a" style="left:1008.9px;top:1031.6px;width:1px;height:34.4px;background:#d9e3f0;"></div>
<div class="a" style="left:1021.2px;top:1062.1px;width:136.3px;height:1px;background:#dbe5f1;"></div>
<div class="a" style="left:128.8px;top:1100.7px;width:1px;height:30.5px;background:#dbe5f1;"></div>
<div class="a" style="left:181.3px;top:1100.7px;width:1px;height:30.5px;background:#dbe5f1;"></div>
<div class="a" style="left:128.8px;top:1131.2px;width:52.5px;height:1px;background:#dbe5f1;"></div>
<div class="a" style="left:204.1px;top:1100.7px;width:1px;height:30.5px;background:#dbe5f1;"></div>
<div class="a" style="left:294.5px;top:1100.7px;width:1px;height:30.5px;background:#dbe5f1;"></div>
<div class="a" style="left:191.8px;top:1100.7px;width:1px;height:34.0px;background:#d9e3f0;"></div>
<div class="a" style="left:204.1px;top:1131.2px;width:90.4px;height:1px;background:#dbe5f1;"></div>
<div class="a" style="left:317.3px;top:1100.7px;width:1px;height:30.5px;background:#dbe5f1;"></div>
<div class="a" style="left:379.0px;top:1100.7px;width:1px;height:30.5px;background:#dbe5f1;"></div>
<div class="a" style="left:305.0px;top:1100.7px;width:1px;height:34.0px;background:#d9e3f0;"></div>
<div class="a" style="left:317.3px;top:1131.2px;width:61.7px;height:1px;background:#dbe5f1;"></div>
<div class="a" style="left:401.8px;top:1100.7px;width:1px;height:30.5px;background:#dbe5f1;"></div>
<div class="a" style="left:468.7px;top:1100.7px;width:1px;height:30.5px;background:#dbe5f1;"></div>
<div class="a" style="left:389.5px;top:1100.7px;width:1px;height:34.0px;background:#d9e3f0;"></div>
<div class="a" style="left:401.8px;top:1131.2px;width:66.9px;height:1px;background:#dbe5f1;"></div>
<div class="a" style="left:491.5px;top:1100.7px;width:1px;height:30.5px;background:#dbe5f1;"></div>
<div class="a" style="left:536.5px;top:1100.7px;width:1px;height:30.5px;background:#dbe5f1;"></div>
<div class="a" style="left:479.2px;top:1100.7px;width:1px;height:34.0px;background:#d9e3f0;"></div>
<div class="a" style="left:491.5px;top:1131.2px;width:45.0px;height:1px;background:#dbe5f1;"></div>
<div class="a" style="left:559.3px;top:1100.7px;width:1px;height:30.5px;background:#dbe5f1;"></div>
<div class="a" style="left:622.0px;top:1100.7px;width:1px;height:30.5px;background:#dbe5f1;"></div>
<div class="a" style="left:547.0px;top:1100.7px;width:1px;height:34.0px;background:#d9e3f0;"></div>
<div class="a" style="left:559.3px;top:1131.2px;width:62.7px;height:1px;background:#dbe5f1;"></div>
<div class="a" style="left:644.8px;top:1100.7px;width:1px;height:30.5px;background:#dbe5f1;"></div>
<div class="a" style="left:693.0px;top:1100.7px;width:1px;height:30.5px;background:#dbe5f1;"></div>
<div class="a" style="left:632.5px;top:1100.7px;width:1px;height:34.0px;background:#d9e3f0;"></div>
<div class="a" style="left:644.8px;top:1131.2px;width:48.2px;height:1px;background:#dbe5f1;"></div>
<div class="a" style="left:715.8px;top:1100.7px;width:1px;height:30.5px;background:#dbe5f1;"></div>
<div class="a" style="left:769.0px;top:1100.7px;width:1px;height:30.5px;background:#dbe5f1;"></div>
<div class="a" style="left:703.5px;top:1100.7px;width:1px;height:34.0px;background:#d9e3f0;"></div>
<div class="a" style="left:715.8px;top:1131.2px;width:53.2px;height:1px;background:#dbe5f1;"></div>
<div class="a" style="left:791.8px;top:1100.7px;width:1px;height:30.5px;background:#dbe5f1;"></div>
<div class="a" style="left:876.0px;top:1100.7px;width:1px;height:30.5px;background:#dbe5f1;"></div>
<div class="a" style="left:779.5px;top:1100.7px;width:1px;height:34.0px;background:#d9e3f0;"></div>
<div class="a" style="left:791.8px;top:1131.2px;width:84.2px;height:1px;background:#dbe5f1;"></div>
<div class="a" style="left:898.8px;top:1100.7px;width:1px;height:30.5px;background:#dbe5f1;"></div>
<div class="a" style="left:998.4px;top:1100.7px;width:1px;height:30.5px;background:#dbe5f1;"></div>
<div class="a" style="left:886.5px;top:1100.7px;width:1px;height:34.0px;background:#d9e3f0;"></div>
<div class="a" style="left:898.8px;top:1131.2px;width:99.6px;height:1px;background:#dbe5f1;"></div>
<div class="a" style="left:1021.2px;top:1100.7px;width:1px;height:30.5px;background:#dbe5f1;"></div>
<div class="a" style="left:1157.5px;top:1100.7px;width:1px;height:30.5px;background:#dbe5f1;"></div>
<div class="a" style="left:1008.9px;top:1100.7px;width:1px;height:34.0px;background:#d9e3f0;"></div>
<div class="a" style="left:1021.2px;top:1131.2px;width:136.3px;height:1px;background:#dbe5f1;"></div>
<div class="a" style="left:128.8px;top:473.5px;width:1px;height:28.5px;background:#6693cc;"></div>
<div class="a" style="left:181.3px;top:473.5px;width:1px;height:28.5px;background:#6693cc;"></div>
<div class="a" style="left:117.0px;top:502.0px;width:75.3px;height:1px;background:#6693cc;"></div>
<div class="a" style="left:204.1px;top:473.5px;width:1px;height:57.5px;background:#6693cc;"></div>
<div class="a" style="left:294.5px;top:473.5px;width:1px;height:57.5px;background:#6693cc;"></div>
<div class="a" style="left:204.1px;top:502.0px;width:90.4px;height:1px;background:#6693cc;"></div>
<div class="a" style="left:192.3px;top:531.0px;width:113.2px;height:1px;background:#6693cc;"></div>
<div class="a" style="left:191.8px;top:473.5px;width:1px;height:73.0px;background:#5f8dc8;"></div>
<div class="a" style="left:317.3px;top:473.5px;width:1px;height:28.5px;background:#6693cc;"></div>
<div class="a" style="left:379.0px;top:473.5px;width:1px;height:28.5px;background:#6693cc;"></div>
<div class="a" style="left:305.5px;top:502.0px;width:84.5px;height:1px;background:#6693cc;"></div>
<div class="a" style="left:305.0px;top:473.5px;width:1px;height:73.0px;background:#5f8dc8;"></div>
<div class="a" style="left:401.8px;top:473.5px;width:1px;height:28.5px;background:#6693cc;"></div>
<div class="a" style="left:468.7px;top:473.5px;width:1px;height:28.5px;background:#6693cc;"></div>
<div class="a" style="left:390.0px;top:502.0px;width:89.7px;height:1px;background:#6693cc;"></div>
<div class="a" style="left:389.5px;top:473.5px;width:1px;height:73.0px;background:#5f8dc8;"></div>
<div class="a" style="left:491.5px;top:473.5px;width:1px;height:57.5px;background:#6693cc;"></div>
<div class="a" style="left:536.5px;top:473.5px;width:1px;height:57.5px;background:#6693cc;"></div>
<div class="a" style="left:491.5px;top:502.0px;width:45.0px;height:1px;background:#6693cc;"></div>
<div class="a" style="left:479.7px;top:531.0px;width:67.8px;height:1px;background:#6693cc;"></div>
<div class="a" style="left:479.2px;top:473.5px;width:1px;height:73.0px;background:#5f8dc8;"></div>
<div class="a" style="left:559.3px;top:473.5px;width:1px;height:28.5px;background:#6693cc;"></div>
<div class="a" style="left:622.0px;top:473.5px;width:1px;height:28.5px;background:#6693cc;"></div>
<div class="a" style="left:547.5px;top:502.0px;width:85.5px;height:1px;background:#6693cc;"></div>
<div class="a" style="left:547.0px;top:473.5px;width:1px;height:73.0px;background:#5f8dc8;"></div>
<div class="a" style="left:644.8px;top:473.5px;width:1px;height:28.5px;background:#6693cc;"></div>
<div class="a" style="left:693.0px;top:473.5px;width:1px;height:28.5px;background:#6693cc;"></div>
<div class="a" style="left:633.0px;top:502.0px;width:71.0px;height:1px;background:#6693cc;"></div>
<div class="a" style="left:632.5px;top:473.5px;width:1px;height:73.0px;background:#5f8dc8;"></div>
<div class="a" style="left:715.8px;top:473.5px;width:1px;height:57.5px;background:#6693cc;"></div>
<div class="a" style="left:769.0px;top:473.5px;width:1px;height:57.5px;background:#6693cc;"></div>
<div class="a" style="left:715.8px;top:502.0px;width:53.2px;height:1px;background:#6693cc;"></div>
<div class="a" style="left:704.0px;top:531.0px;width:76.0px;height:1px;background:#6693cc;"></div>
<div class="a" style="left:703.5px;top:473.5px;width:1px;height:73.0px;background:#5f8dc8;"></div>
<div class="a" style="left:791.8px;top:473.5px;width:1px;height:57.5px;background:#6693cc;"></div>
<div class="a" style="left:876.0px;top:473.5px;width:1px;height:57.5px;background:#6693cc;"></div>
<div class="a" style="left:791.8px;top:502.0px;width:84.2px;height:1px;background:#6693cc;"></div>
<div class="a" style="left:780.0px;top:531.0px;width:107.0px;height:1px;background:#6693cc;"></div>
<div class="a" style="left:779.5px;top:473.5px;width:1px;height:73.0px;background:#5f8dc8;"></div>
<div class="a" style="left:898.8px;top:473.5px;width:1px;height:28.5px;background:#6693cc;"></div>
<div class="a" style="left:998.4px;top:473.5px;width:1px;height:28.5px;background:#6693cc;"></div>
<div class="a" style="left:887.0px;top:502.0px;width:122.4px;height:1px;background:#6693cc;"></div>
<div class="a" style="left:886.5px;top:473.5px;width:1px;height:73.0px;background:#5f8dc8;"></div>
<div class="a" style="left:1021.2px;top:473.5px;width:1px;height:28.5px;background:#6693cc;"></div>
<div class="a" style="left:1157.5px;top:473.5px;width:1px;height:28.5px;background:#6693cc;"></div>
<div class="a" style="left:1009.4px;top:502.0px;width:159.1px;height:1px;background:#6693cc;"></div>
<div class="a" style="left:1008.9px;top:473.5px;width:1px;height:73.0px;background:#5f8dc8;"></div>
<div class="a" style="left:191.5px;top:473px;width:1.6px;height:697.5px;background:#fff;"></div>
<div class="a" style="left:1008.6px;top:473px;width:1.6px;height:697.5px;background:#fff;"></div>
<div class="a" style="left:117px;top:471px;width:1052.0px;height:1.6px;background:#7b93b8;"></div>
<div class="a" style="left:117px;top:472.6px;width:1051.5px;height:1px;background:#8aaee0;"></div>
<div class="a" style="left:117px;top:471px;width:2px;height:701.0px;background:#7b96be;"></div>
<div class="a" style="left:1167.0px;top:471px;width:2px;height:701.0px;background:#7a9ecb;"></div>
<div class="a" style="left:117px;top:1170.0px;width:1052.0px;height:2px;background:#7b96be;"></div>
<div class="t hd" style="left:117px;width:75.30000000000001px;top:477px;text-align:center;direction:rtl;">تحاليل</div>
<div class="t hd" style="left:192.3px;width:113.19999999999999px;top:477px;text-align:center;direction:rtl;">حيوانات</div>
<div class="t hd" style="left:192.3px;width:113.19999999999999px;top:506px;text-align:center;direction:rtl;">اليفة</div>
<div class="t hd" style="left:305.5px;width:84.5px;top:477px;text-align:center;direction:rtl;">دواجن</div>
<div class="t hd" style="left:390px;width:89.69999999999999px;top:477px;text-align:center;direction:rtl;">جراحة</div>
<div class="t hd" style="left:479.7px;width:67.80000000000001px;top:477px;text-align:center;direction:rtl;">سونا</div>
<div class="t hd" style="left:479.7px;width:67.80000000000001px;top:506px;text-align:center;direction:rtl;">ر</div>
<div class="t hd" style="left:547.5px;width:85.5px;top:477px;text-align:center;direction:rtl;">جمال</div>
<div class="t hd" style="left:633px;width:71px;top:477px;text-align:center;direction:rtl;">دواب</div>
<div class="t hd" style="left:704px;width:76px;top:477px;text-align:center;direction:rtl;">أغنام</div>
<div class="t hd" style="left:704px;width:76px;top:506px;text-align:center;direction:rtl;">وماعز</div>
<div class="t hd" style="left:780px;width:107px;top:477px;text-align:center;direction:rtl;">أبقار</div>
<div class="t hd" style="left:780px;width:107px;top:506px;text-align:center;direction:rtl;">وجاموس</div>
<div class="t hd" style="left:887px;width:122.39999999999998px;top:477px;text-align:center;direction:rtl;">القرية</div>
<div class="t hd" style="left:1009.4px;width:159.10000000000002px;top:477px;text-align:center;direction:rtl;">التاريخ</div>
<div class="t num" style="left:117px;width:66.30000000000001px;top:549.5px;text-align:right;">0</div>
<div class="t num" style="left:192.3px;width:104.19999999999999px;top:549.5px;text-align:right;">0</div>
<div class="t num" style="left:305.5px;width:75.5px;top:549.5px;text-align:right;">148</div>
<div class="t num" style="left:390px;width:80.69999999999999px;top:549.5px;text-align:right;">0</div>
<div class="t num" style="left:479.7px;width:58.80000000000001px;top:549.5px;text-align:right;">12</div>
<div class="t num" style="left:547.5px;width:76.5px;top:549.5px;text-align:right;">0</div>
<div class="t num" style="left:633px;width:62px;top:549.5px;text-align:right;">4</div>
<div class="t num" style="left:704px;width:67px;top:549.5px;text-align:right;">5</div>
<div class="t num" style="left:780px;width:98px;top:549.5px;text-align:right;">14</div>
<div class="t vil" style="left:943.21px;top:551.3px;transform:scaleX(1.0111);">مشتهر</div>
<div class="t num dt" style="left:1027.87px;top:549.5px;transform:scaleX(1.0129);">14/8/2025</div>
<div class="t num" style="left:117px;width:66.30000000000001px;top:584px;text-align:right;">0</div>
<div class="t num" style="left:192.3px;width:104.19999999999999px;top:584px;text-align:right;">0</div>
<div class="t num" style="left:305.5px;width:75.5px;top:584px;text-align:right;">20</div>
<div class="t num" style="left:390px;width:80.69999999999999px;top:584px;text-align:right;">0</div>
<div class="t num" style="left:479.7px;width:58.80000000000001px;top:584px;text-align:right;">27</div>
<div class="t num" style="left:547.5px;width:76.5px;top:584px;text-align:right;">0</div>
<div class="t num" style="left:633px;width:62px;top:584px;text-align:right;">8</div>
<div class="t num" style="left:704px;width:67px;top:584px;text-align:right;">4</div>
<div class="t num" style="left:780px;width:98px;top:584px;text-align:right;">19</div>
<div class="t vil" style="left:943.21px;top:585.8px;transform:scaleX(1.0111);">مشتهر</div>
<div class="t num dt" style="left:1027.87px;top:584.0px;transform:scaleX(1.0129);">15/7/2025</div>
<div class="t num" style="left:117px;width:66.30000000000001px;top:618.5px;text-align:right;">0</div>
<div class="t num" style="left:192.3px;width:104.19999999999999px;top:618.5px;text-align:right;">0</div>
<div class="t num" style="left:305.5px;width:75.5px;top:618.5px;text-align:right;">0</div>
<div class="t num" style="left:390px;width:80.69999999999999px;top:618.5px;text-align:right;">0</div>
<div class="t num" style="left:479.7px;width:58.80000000000001px;top:618.5px;text-align:right;">35</div>
<div class="t num" style="left:547.5px;width:76.5px;top:618.5px;text-align:right;">0</div>
<div class="t num" style="left:633px;width:62px;top:618.5px;text-align:right;">6</div>
<div class="t num" style="left:704px;width:67px;top:618.5px;text-align:right;">3</div>
<div class="t num" style="left:780px;width:98px;top:618.5px;text-align:right;">4</div>
<div class="t vil" style="left:943.21px;top:620.3px;transform:scaleX(1.0111);">مشتهر</div>
<div class="t num dt" style="left:1027.87px;top:618.5px;transform:scaleX(1.0129);">17/6/2028</div>
<div class="t num" style="left:117px;width:66.30000000000001px;top:652.7px;text-align:right;">0</div>
<div class="t num" style="left:192.3px;width:104.19999999999999px;top:652.7px;text-align:right;">0</div>
<div class="t num" style="left:305.5px;width:75.5px;top:652.7px;text-align:right;">0</div>
<div class="t num" style="left:390px;width:80.69999999999999px;top:652.7px;text-align:right;">0</div>
<div class="t num" style="left:479.7px;width:58.80000000000001px;top:652.7px;text-align:right;">20</div>
<div class="t num" style="left:547.5px;width:76.5px;top:652.7px;text-align:right;">0</div>
<div class="t num" style="left:633px;width:62px;top:652.7px;text-align:right;">8</div>
<div class="t num" style="left:704px;width:67px;top:652.7px;text-align:right;">8</div>
<div class="t num" style="left:780px;width:98px;top:652.7px;text-align:right;">3</div>
<div class="t vil" style="left:943.21px;top:654.5px;transform:scaleX(1.0111);">مشتهر</div>
<div class="t num dt" style="left:1028.6px;top:652.7px;transform:scaleX(1.0034);">26/5/2025</div>
<div class="t num" style="left:117px;width:66.30000000000001px;top:687.8px;text-align:right;">0</div>
<div class="t num" style="left:192.3px;width:104.19999999999999px;top:687.8px;text-align:right;">0</div>
<div class="t num" style="left:305.5px;width:75.5px;top:687.8px;text-align:right;">0</div>
<div class="t num" style="left:390px;width:80.69999999999999px;top:687.8px;text-align:right;">0</div>
<div class="t num" style="left:479.7px;width:58.80000000000001px;top:687.8px;text-align:right;">21</div>
<div class="t num" style="left:547.5px;width:76.5px;top:687.8px;text-align:right;">9</div>
<div class="t num" style="left:633px;width:62px;top:687.8px;text-align:right;">6</div>
<div class="t num" style="left:704px;width:67px;top:687.8px;text-align:right;">4</div>
<div class="t num" style="left:780px;width:98px;top:687.8px;text-align:right;">2</div>
<div class="t vil" style="left:943.21px;top:689.6px;transform:scaleX(1.0111);">مشتهر</div>
<div class="t num dt" style="left:1027.56px;top:687.8px;transform:scaleX(1.0209);">11/5/2025</div>
<div class="t num" style="left:117px;width:66.30000000000001px;top:717.7px;text-align:right;">0</div>
<div class="t num" style="left:192.3px;width:104.19999999999999px;top:717.7px;text-align:right;">0</div>
<div class="t num" style="left:305.5px;width:75.5px;top:717.7px;text-align:right;">2115</div>
<div class="t num" style="left:390px;width:80.69999999999999px;top:717.7px;text-align:right;">0</div>
<div class="t num" style="left:479.7px;width:58.80000000000001px;top:717.7px;text-align:right;">20</div>
<div class="t num" style="left:547.5px;width:76.5px;top:717.7px;text-align:right;">0</div>
<div class="t num" style="left:633px;width:62px;top:717.7px;text-align:right;">3</div>
<div class="t num" style="left:704px;width:67px;top:717.7px;text-align:right;">8</div>
<div class="t num" style="left:780px;width:98px;top:717.7px;text-align:right;">50</div>
<div class="t vil vb" style="left:953.93px;top:720.3px;transform:scaleX(0.9698);">امياى</div>
<div class="t num dt" style="left:1028.47px;top:717.7px;transform:scaleX(1.1276);">٩/12/2024</div>
<div class="t num" style="left:117px;width:66.30000000000001px;top:752.6px;text-align:right;">0</div>
<div class="t num" style="left:192.3px;width:104.19999999999999px;top:752.6px;text-align:right;">5</div>
<div class="t num" style="left:305.5px;width:75.5px;top:752.6px;text-align:right;">850</div>
<div class="t num" style="left:390px;width:80.69999999999999px;top:752.6px;text-align:right;">0</div>
<div class="t num" style="left:479.7px;width:58.80000000000001px;top:752.6px;text-align:right;">25</div>
<div class="t num" style="left:547.5px;width:76.5px;top:752.6px;text-align:right;">0</div>
<div class="t num" style="left:633px;width:62px;top:752.6px;text-align:right;">7</div>
<div class="t num" style="left:704px;width:67px;top:752.6px;text-align:right;">13</div>
<div class="t num" style="left:780px;width:98px;top:752.6px;text-align:right;">120</div>
<div class="t vil vb" style="left:932.02px;top:755.2px;transform:scaleX(0.9846);">الشموت</div>
<div class="t num dt" style="left:1028.27px;top:752.6px;transform:scaleX(1.1314);">٢/12/2024</div>
<div class="t num" style="left:117px;width:66.30000000000001px;top:786.5px;text-align:right;">0</div>
<div class="t num" style="left:192.3px;width:104.19999999999999px;top:786.5px;text-align:right;">0</div>
<div class="t num" style="left:305.5px;width:75.5px;top:786.5px;text-align:right;">2015</div>
<div class="t num" style="left:390px;width:80.69999999999999px;top:786.5px;text-align:right;">0</div>
<div class="t num" style="left:479.7px;width:58.80000000000001px;top:786.5px;text-align:right;">34</div>
<div class="t num" style="left:547.5px;width:76.5px;top:786.5px;text-align:right;">0</div>
<div class="t num" style="left:633px;width:62px;top:786.5px;text-align:right;">0</div>
<div class="t num" style="left:704px;width:67px;top:786.5px;text-align:right;">17</div>
<div class="t num" style="left:780px;width:98px;top:786.5px;text-align:right;">105</div>
<div class="t vil vb" style="left:938.98px;top:789.1px;transform:scaleX(1.0175);">شبلنجة</div>
<div class="t num dt" style="left:1021.4px;top:786.5px;transform:scaleX(1.0046);">25/11/2024</div>
<div class="t num" style="left:117px;width:66.30000000000001px;top:821.3px;text-align:right;">0</div>
<div class="t num" style="left:192.3px;width:104.19999999999999px;top:821.3px;text-align:right;">0</div>
<div class="t num" style="left:305.5px;width:75.5px;top:821.3px;text-align:right;">1756</div>
<div class="t num" style="left:390px;width:80.69999999999999px;top:821.3px;text-align:right;">0</div>
<div class="t num" style="left:479.7px;width:58.80000000000001px;top:821.3px;text-align:right;">25</div>
<div class="t num" style="left:547.5px;width:76.5px;top:821.3px;text-align:right;">0</div>
<div class="t num" style="left:633px;width:62px;top:821.3px;text-align:right;">4</div>
<div class="t num" style="left:704px;width:67px;top:821.3px;text-align:right;">29</div>
<div class="t num" style="left:780px;width:98px;top:821.3px;text-align:right;">75</div>
<div class="t vil vb" style="left:970.87px;top:823.9px;transform:scaleX(0.9333);">بطا</div>
<div class="t num dt" style="left:1017.86px;top:821.3px;transform:scaleX(1.1345);">١٨/11/2024</div>
<div class="t num" style="left:117px;width:66.30000000000001px;top:855.5px;text-align:right;">0</div>
<div class="t num" style="left:192.3px;width:104.19999999999999px;top:855.5px;text-align:right;">0</div>
<div class="t num" style="left:305.5px;width:75.5px;top:855.5px;text-align:right;">2270</div>
<div class="t num" style="left:390px;width:80.69999999999999px;top:855.5px;text-align:right;">5</div>
<div class="t num" style="left:479.7px;width:58.80000000000001px;top:855.5px;text-align:right;">50</div>
<div class="t num" style="left:547.5px;width:76.5px;top:855.5px;text-align:right;">0</div>
<div class="t num" style="left:633px;width:62px;top:855.5px;text-align:right;">9</div>
<div class="t num" style="left:704px;width:67px;top:855.5px;text-align:right;">16</div>
<div class="t num" style="left:780px;width:98px;top:855.5px;text-align:right;">44</div>
<div class="t vil vb" style="left:945.15px;top:858.1px;transform:scaleX(0.85);">قرنفيل</div>
<div class="t num dt" style="left:1020.97px;top:855.5px;transform:scaleX(1.0155);">11/11/2024</div>
<div class="t num" style="left:117px;width:66.30000000000001px;top:890px;text-align:right;">0</div>
<div class="t num" style="left:192.3px;width:104.19999999999999px;top:890px;text-align:right;">7</div>
<div class="t num" style="left:305.5px;width:75.5px;top:890px;text-align:right;">2000</div>
<div class="t num" style="left:390px;width:80.69999999999999px;top:890px;text-align:right;">0</div>
<div class="t num" style="left:479.7px;width:58.80000000000001px;top:890px;text-align:right;">15</div>
<div class="t num" style="left:547.5px;width:76.5px;top:890px;text-align:right;">0</div>
<div class="t num" style="left:633px;width:62px;top:890px;text-align:right;">15</div>
<div class="t num" style="left:704px;width:67px;top:890px;text-align:right;">4</div>
<div class="t num" style="left:780px;width:98px;top:890px;text-align:right;">38</div>
<div class="t vil vb" style="left:915.38px;top:892.6px;transform:scaleX(1.1181);">الخصوص</div>
<div class="t num dt" style="left:1027.12px;top:890.0px;transform:scaleX(1.1404);">٤/11/2024</div>
<div class="t num" style="left:117px;width:66.30000000000001px;top:924px;text-align:right;">5</div>
<div class="t num" style="left:192.3px;width:104.19999999999999px;top:924px;text-align:right;">٠</div>
<div class="t num" style="left:305.5px;width:75.5px;top:924px;text-align:right;">935</div>
<div class="t num" style="left:390px;width:80.69999999999999px;top:924px;text-align:right;">7</div>
<div class="t num" style="left:479.7px;width:58.80000000000001px;top:924px;text-align:right;">30</div>
<div class="t num" style="left:547.5px;width:76.5px;top:924px;text-align:right;">2</div>
<div class="t num" style="left:633px;width:62px;top:924px;text-align:right;">16</div>
<div class="t num" style="left:704px;width:67px;top:924px;text-align:right;">6</div>
<div class="t num" style="left:780px;width:98px;top:924px;text-align:right;">42</div>
<div class="t vil vb" style="left:939.94px;top:926.6px;transform:scaleX(1.0566);">الخانكة</div>
<div class="t num dt" style="left:1024.34px;top:924.0px;transform:scaleX(1.0633);">٢٨/1٠/2024</div>
<div class="t num" style="left:117px;width:66.30000000000001px;top:959px;text-align:right;">0</div>
<div class="t num" style="left:192.3px;width:104.19999999999999px;top:959px;text-align:right;">0</div>
<div class="t num" style="left:305.5px;width:75.5px;top:959px;text-align:right;">3945</div>
<div class="t num" style="left:390px;width:80.69999999999999px;top:959px;text-align:right;">3</div>
<div class="t num" style="left:479.7px;width:58.80000000000001px;top:959px;text-align:right;">15</div>
<div class="t num" style="left:547.5px;width:76.5px;top:959px;text-align:right;">0</div>
<div class="t num" style="left:633px;width:62px;top:959px;text-align:right;">5</div>
<div class="t num" style="left:704px;width:67px;top:959px;text-align:right;">45</div>
<div class="t num" style="left:780px;width:98px;top:959px;text-align:right;">44</div>
<div class="t vil vb" style="left:941.69px;top:961.6px;transform:scaleX(0.9877);">الاحراز</div>
<div class="t num dt" style="left:1021.28px;top:959.0px;transform:scaleX(1.1153);">2١/10/2024</div>
<div class="t num" style="left:117px;width:66.30000000000001px;top:1000.6px;text-align:right;">0</div>
<div class="t num" style="left:192.3px;width:104.19999999999999px;top:1000.6px;text-align:right;">0</div>
<div class="t num" style="left:305.5px;width:75.5px;top:1000.6px;text-align:right;">700</div>
<div class="t num" style="left:390px;width:80.69999999999999px;top:1000.6px;text-align:right;">5</div>
<div class="t num" style="left:479.7px;width:58.80000000000001px;top:1000.6px;text-align:right;">25</div>
<div class="t num" style="left:547.5px;width:76.5px;top:1000.6px;text-align:right;">0</div>
<div class="t num" style="left:633px;width:62px;top:1000.6px;text-align:right;">26</div>
<div class="t num" style="left:704px;width:67px;top:1000.6px;text-align:right;">19</div>
<div class="t num" style="left:780px;width:98px;top:1000.6px;text-align:right;">34</div>
<div class="t vil vb" style="left:964.88px;top:1003.2px;transform:scaleX(1.0226);">نوى</div>
<div class="t num dt" style="left:1020.24px;top:1000.6px;transform:scaleX(1.1147);">١٤/10/2024</div>
<div class="t num" style="left:117px;width:66.30000000000001px;top:1034.6px;text-align:right;">0</div>
<div class="t num" style="left:192.3px;width:104.19999999999999px;top:1034.6px;text-align:right;">0</div>
<div class="t num" style="left:305.5px;width:75.5px;top:1034.6px;text-align:right;">1010</div>
<div class="t num" style="left:390px;width:80.69999999999999px;top:1034.6px;text-align:right;">1</div>
<div class="t num" style="left:479.7px;width:58.80000000000001px;top:1034.6px;text-align:right;">25</div>
<div class="t num" style="left:547.5px;width:76.5px;top:1034.6px;text-align:right;">0</div>
<div class="t num" style="left:633px;width:62px;top:1034.6px;text-align:right;">4</div>
<div class="t num" style="left:704px;width:67px;top:1034.6px;text-align:right;">83</div>
<div class="t num" style="left:780px;width:98px;top:1034.6px;text-align:right;">65</div>
<div class="t vil vb" style="left:917.78px;top:1037.2px;transform:scaleX(1.0234);">ميت كنانة</div>
<div class="t num dt" style="left:1027.37px;top:1034.6px;transform:scaleX(1.0154);">7/10/2024</div>
<div class="t num" style="left:117px;width:66.30000000000001px;top:1069px;text-align:right;">0</div>
<div class="t num" style="left:192.3px;width:104.19999999999999px;top:1069px;text-align:right;">0</div>
<div class="t num" style="left:305.5px;width:75.5px;top:1069px;text-align:right;">555</div>
<div class="t num" style="left:390px;width:80.69999999999999px;top:1069px;text-align:right;">8</div>
<div class="t num" style="left:479.7px;width:58.80000000000001px;top:1069px;text-align:right;">10</div>
<div class="t num" style="left:547.5px;width:76.5px;top:1069px;text-align:right;">0</div>
<div class="t num" style="left:633px;width:62px;top:1069px;text-align:right;">4</div>
<div class="t num" style="left:704px;width:67px;top:1069px;text-align:right;">17</div>
<div class="t num" style="left:780px;width:98px;top:1069px;text-align:right;">45</div>
<div class="t vil vb" style="left:942.57px;top:1071.6px;transform:scaleX(0.9655);">صنافير</div>
<div class="t num dt" style="left:1028.31px;top:1069.0px;transform:scaleX(1.0897);">٣٠/٩/2024</div>
<div class="t num" style="left:117px;width:66.30000000000001px;top:1103.7px;text-align:right;">5</div>
<div class="t num" style="left:192.3px;width:104.19999999999999px;top:1103.7px;text-align:right;">0</div>
<div class="t num" style="left:305.5px;width:75.5px;top:1103.7px;text-align:right;">4000</div>
<div class="t num" style="left:390px;width:80.69999999999999px;top:1103.7px;text-align:right;">7</div>
<div class="t num" style="left:479.7px;width:58.80000000000001px;top:1103.7px;text-align:right;">100</div>
<div class="t num" style="left:547.5px;width:76.5px;top:1103.7px;text-align:right;">0</div>
<div class="t num" style="left:633px;width:62px;top:1103.7px;text-align:right;">6</div>
<div class="t num" style="left:704px;width:67px;top:1103.7px;text-align:right;">35</div>
<div class="t num" style="left:780px;width:98px;top:1103.7px;text-align:right;">60</div>
<div class="t vil vb" style="left:942.39px;top:1106.3px;transform:scaleX(1.1146);">الحصة</div>
<div class="t num dt" style="left:1028.27px;top:1103.7px;transform:scaleX(1.1295);">2٣/9/2024</div>
<div class="t num" style="left:117px;width:66.30000000000001px;top:1137.7px;text-align:right;">0</div>
<div class="t num" style="left:192.3px;width:104.19999999999999px;top:1137.7px;text-align:right;">0</div>
<div class="t num" style="left:305.5px;width:75.5px;top:1137.7px;text-align:right;">1390</div>
<div class="t num" style="left:390px;width:80.69999999999999px;top:1137.7px;text-align:right;">0</div>
<div class="t num" style="left:479.7px;width:58.80000000000001px;top:1137.7px;text-align:right;">16</div>
<div class="t num" style="left:547.5px;width:76.5px;top:1137.7px;text-align:right;">0</div>
<div class="t num" style="left:633px;width:62px;top:1137.7px;text-align:right;">8</div>
<div class="t num" style="left:704px;width:67px;top:1137.7px;text-align:right;">19</div>
<div class="t num" style="left:780px;width:98px;top:1137.7px;text-align:right;">46</div>
<div class="t vil vb" style="left:938.99px;top:1140.3px;transform:scaleX(1.0105);">شبلنجة</div>
<div class="t num dt" style="left:1034.27px;top:1137.7px;transform:scaleX(1.0262);">9/9/2024</div>
</body></html>
